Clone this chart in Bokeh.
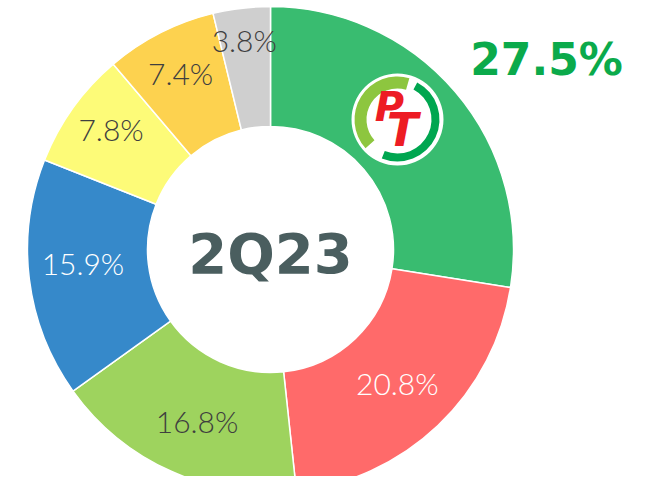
import math
from bokeh.plotting import figure
from bokeh.models import Range1d
from bokeh.core.properties import value
from bokeh.embed import file_html
from bokeh.resources import INLINE

# ---- data ----
shares = [27.5, 20.8, 16.8, 15.9, 7.8, 7.4, 3.8]
labels = ["27.5%", "20.8%", "16.8%", "15.9%", "7.8%", "7.4%", "3.8%"]
colors = ["#39BC70", "#FF6A6A", "#9ED35E", "#3689CA", "#FDFB78", "#FDD24F", "#CFCFCF"]
label_colors = ["#0BAA4B", "#FFFFFF", "#3F3F3F", "#FFFFFF", "#3F3F3F", "#3F3F3F", "#3F3F3F"]
center_title = "2Q23"

# ---- layout (style) ----
W, H = 630, 476


def Y(py):
    return H - py


CX, CY = 270, Y(249)
R_IN, R_OUT = 123, 243
label_r = [335, 184, 187, 188, 200, 198, 211]
label_dang = [6.0, 0.0, -1.0, 3.0, 1.5, 0.0, -0.3]

p = figure(width=W, height=H, output_backend="svg", toolbar_location=None,
           x_range=Range1d(0, W), y_range=Range1d(0, H),
           min_border=0)
p.axis.visible = False
p.grid.visible = False
p.outline_line_color = None
p.background_fill_color = "#FFFFFF"
p.border_fill_color = "#FFFFFF"

total = sum(shares)
cum = 0.0
for i, s in enumerate(shares):
    a0 = math.pi / 2 - 2 * math.pi * cum / total
    a1 = math.pi / 2 - 2 * math.pi * (cum + s) / total
    p.annular_wedge(x=CX, y=CY, inner_radius=R_IN, outer_radius=R_OUT,
                    start_angle=a0, end_angle=a1, direction="clock",
                    fill_color=colors[i], line_color="#FFFFFF", line_width=1.5)
    mid = (cum + s / 2) / total * 360 + label_dang[i]
    lx = CX + label_r[i] * math.sin(math.radians(mid))
    ly = CY + label_r[i] * math.cos(math.radians(mid))
    if i == 0:
        p.text(x=[lx], y=[ly], text=[labels[i]], text_align="center",
               text_baseline="middle", text_font=value("DejaVu Sans"),
               text_font_style="bold", text_font_size="44px",
               text_color=label_colors[i])
    else:
        p.text(x=[lx], y=[ly], text=[labels[i]], text_align="center",
               text_baseline="middle", text_font=value("'Lato Light', Lato"),
               text_font_size="30px", text_color=label_colors[i])
    cum += s

# centre title
p.text(x=[CX], y=[Y(253)], text=[center_title], text_align="center",
       text_baseline="middle", text_font=value("DejaVu Sans"),
       text_font_style="bold", text_font_size="56px", text_color="#4A5E5F")

# logo
LX, LY = 397, Y(119)
p.circle(x=[LX], y=[LY], radius=46, fill_color="#FFFFFF", line_color=None)
p.annular_wedge(x=LX, y=LY, inner_radius=31, outer_radius=43,
                start_angle=math.radians(74), end_angle=math.radians(222),
                direction="anticlock", fill_color="#8DC63F", line_color=None)
p.annular_wedge(x=LX, y=LY, inner_radius=34, outer_radius=42,
                start_angle=math.radians(62), end_angle=math.radians(-112),
                direction="clock", fill_color="#00A650", line_color=None)
p.text(x=[389], y=[Y(106)], text=["P"], text_align="center",
       text_baseline="middle", text_font=value("DejaVu Sans"),
       text_font_style="bold italic", text_font_size="40px",
       text_color="#ED1C24")
p.text(x=[402], y=[Y(129)], text=["T"], text_align="center",
       text_baseline="middle", text_font=value("DejaVu Sans"),
       text_font_style="bold italic", text_font_size="46px",
       text_color="#ED1C24")

open("out.html", "w").write(file_html(p, INLINE))
